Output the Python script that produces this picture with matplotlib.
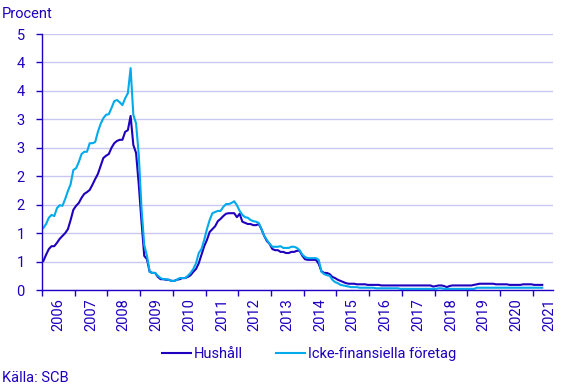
import numpy as np
import matplotlib
matplotlib.use("Agg")
import matplotlib.pyplot as plt
from matplotlib.ticker import FixedLocator, NullFormatter, FixedFormatter

plt.rcParams['font.family'] = ['Roboto', 'DejaVu Sans']

start_year = 2006
years = list(range(2006, 2022))
year_labels = [str(y) for y in years]
y_ticks = [0, 0.5, 1, 1.5, 2, 2.5, 3, 3.5, 4, 4.5]
y_tick_labels = ["0", "1", "1", "2", "2", "3", "3", "4", "4", "5"]

hushall = [
    0.51, 0.62, 0.72, 0.77, 0.77, 0.83, 0.90, 0.95, 1.00, 1.07,
    1.23, 1.41, 1.48, 1.53, 1.62, 1.69, 1.72, 1.76, 1.85, 1.95,
    2.04, 2.18, 2.32, 2.36, 2.39, 2.50, 2.58, 2.62, 2.64, 2.64,
    2.78, 2.81, 3.06, 2.55, 2.41, 1.85, 1.20, 0.60, 0.54, 0.32,
    0.30, 0.30, 0.23, 0.19, 0.19, 0.18, 0.18, 0.16, 0.16, 0.18,
    0.19, 0.21, 0.21, 0.23, 0.26, 0.32, 0.37, 0.47, 0.62, 0.77,
    0.88, 1.02, 1.07, 1.12, 1.21, 1.25, 1.30, 1.34, 1.35, 1.35,
    1.35, 1.28, 1.34, 1.20, 1.18, 1.16, 1.16, 1.14, 1.14, 1.16,
    1.07, 0.95, 0.86, 0.81, 0.72, 0.70, 0.70, 0.67, 0.67, 0.65,
    0.65, 0.67, 0.67, 0.69, 0.69, 0.60, 0.54, 0.53, 0.53, 0.53,
    0.53, 0.46, 0.33, 0.30, 0.30, 0.28, 0.23, 0.21, 0.18, 0.16,
    0.14, 0.12, 0.11, 0.11, 0.11, 0.10, 0.10, 0.10, 0.10, 0.09,
    0.09, 0.09, 0.09, 0.09, 0.08, 0.08, 0.08, 0.08, 0.08, 0.08,
    0.08, 0.08, 0.08, 0.08, 0.08, 0.08, 0.08, 0.08, 0.08, 0.08,
    0.08, 0.08, 0.08, 0.06, 0.07, 0.08, 0.08, 0.07, 0.05, 0.07,
    0.08, 0.08, 0.08, 0.08, 0.08, 0.08, 0.08, 0.08, 0.09, 0.10,
    0.11, 0.11, 0.11, 0.11, 0.11, 0.11, 0.10, 0.10, 0.10, 0.10,
    0.10, 0.09, 0.09, 0.09, 0.09, 0.09, 0.10, 0.10, 0.10, 0.10,
    0.09, 0.09, 0.09, 0.09,
]

foretag = [
    1.09, 1.16, 1.27, 1.32, 1.30, 1.44, 1.49, 1.48, 1.60, 1.74,
    1.86, 2.11, 2.14, 2.25, 2.39, 2.43, 2.43, 2.58, 2.58, 2.60,
    2.78, 2.92, 3.02, 3.08, 3.09, 3.20, 3.32, 3.34, 3.30, 3.25,
    3.37, 3.46, 3.90, 3.08, 2.93, 2.37, 1.44, 0.79, 0.60, 0.32,
    0.30, 0.30, 0.25, 0.21, 0.19, 0.19, 0.18, 0.16, 0.16, 0.18,
    0.21, 0.21, 0.21, 0.25, 0.30, 0.37, 0.47, 0.65, 0.72, 0.88,
    1.07, 1.23, 1.35, 1.37, 1.39, 1.39, 1.46, 1.51, 1.51, 1.53,
    1.56, 1.49, 1.39, 1.32, 1.28, 1.27, 1.23, 1.21, 1.20, 1.18,
    1.07, 0.95, 0.88, 0.81, 0.76, 0.76, 0.76, 0.77, 0.74, 0.74,
    0.74, 0.76, 0.76, 0.74, 0.70, 0.62, 0.58, 0.56, 0.56, 0.56,
    0.56, 0.53, 0.32, 0.28, 0.26, 0.25, 0.18, 0.14, 0.12, 0.09,
    0.08, 0.07, 0.06, 0.05, 0.05, 0.05, 0.04, 0.04, 0.04, 0.04,
    0.04, 0.04, 0.03, 0.03, 0.03, 0.03, 0.03, 0.03, 0.03, 0.03,
    0.03, 0.02, 0.02, 0.02, 0.02, 0.02, 0.02, 0.02, 0.02, 0.02,
    0.02, 0.02, 0.02, 0.02, 0.02, 0.03, 0.03, 0.02, 0.02, 0.02,
    0.02, 0.02, 0.02, 0.02, 0.02, 0.02, 0.02, 0.02, 0.02, 0.04,
    0.04, 0.04, 0.04, 0.04, 0.04, 0.04, 0.04, 0.04, 0.04, 0.04,
    0.04, 0.04, 0.04, 0.04, 0.04, 0.04, 0.04, 0.04, 0.04, 0.04,
    0.04, 0.04, 0.04, 0.04,
]

series_names = ["Hushåll", "Icke-finansiella företag"]

TEXT = "#1E00BE"
DARK = "#1E00BE"
CYAN = "#00AAEB"
GRID = "#C8C8F0"

fig = plt.figure(figsize=(5.67, 3.88), dpi=100)
ax = fig.add_axes([42/567, 1-290/388, (553-42)/567, (290-34)/388])

t = start_year + (np.arange(len(hushall)) + 0.5) / 12.0
l1, = ax.plot(t, hushall, color=DARK, lw=1.5, label=series_names[0])
l2, = ax.plot(t, foretag, color=CYAN, lw=1.5, label=series_names[1])

ax.set_xlim(2006, 2021.62)
ax.set_ylim(0, 4.5)

ax.yaxis.set_major_locator(FixedLocator(y_ticks))
ax.yaxis.set_major_formatter(FixedFormatter(y_tick_labels))
ax.grid(axis='y', color=GRID, lw=1)
ax.set_axisbelow(True)

ax.xaxis.set_major_locator(FixedLocator(years))
ax.xaxis.set_major_formatter(NullFormatter())
ax.xaxis.set_minor_locator(FixedLocator([y + 0.5 for y in years]))
ax.xaxis.set_minor_formatter(FixedFormatter(year_labels))
ax.tick_params(axis='x', which='major', length=4.5, width=1, color=TEXT, direction='out')
ax.tick_params(axis='x', which='minor', length=0, labelsize=10.5, labelcolor=TEXT,
               labelrotation=90, pad=6)
ax.tick_params(axis='y', length=4.5, width=1, color=TEXT, labelsize=10.5,
               labelcolor=TEXT, pad=8)

for s in ['top', 'right']:
    ax.spines[s].set_visible(False)
for s in ['left', 'bottom']:
    ax.spines[s].set_color(TEXT)
    ax.spines[s].set_linewidth(1)

fig.text(2/567, 1-14/388, "Procent", color=TEXT, fontsize=10.5, va='center', ha='left')
fig.text(2/567, 1-378/388, "Källa: SCB", color=TEXT, fontsize=10.5, va='center', ha='left')

fig.legend(handles=[l1, l2], loc='center', bbox_to_anchor=(309/567, 1-354/388),
           ncol=2, frameon=False, fontsize=10.5, labelcolor=TEXT,
           handlelength=2.0, handletextpad=0.2, columnspacing=2.3)

fig.savefig("out.png", dpi=100)
